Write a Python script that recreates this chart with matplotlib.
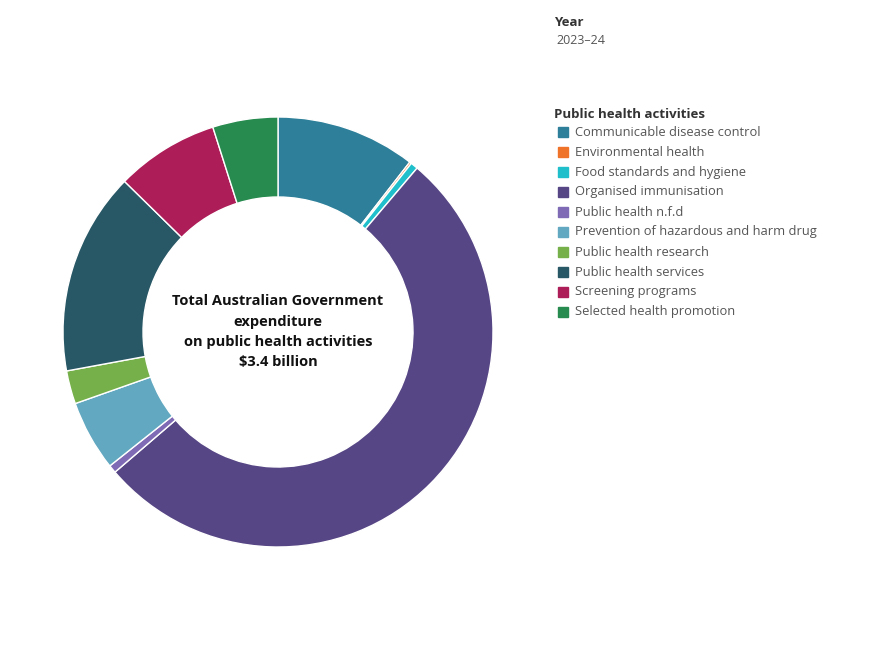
import matplotlib
matplotlib.use("Agg")
import matplotlib.pyplot as plt
from matplotlib.patches import Rectangle

categories = [
    "Communicable disease control",
    "Environmental health",
    "Food standards and hygiene",
    "Organised immunisation",
    "Public health n.f.d",
    "Prevention of hazardous and harm drug",
    "Public health research",
    "Public health services",
    "Screening programs",
    "Selected health promotion",
]
shares = [10.5, 0.15, 0.55, 52.5, 0.6, 5.3, 2.5, 15.25, 7.75, 4.9]
colors = ["#2e7f99", "#f0732a", "#1fbfcb", "#574685", "#7f6bb5",
          "#61a8c0", "#76b04a", "#285765", "#ad1d57", "#278a4e"]
year = "2023–24"
center_lines = ["Total Australian Government", "expenditure",
                "on public health activities", "$3.4 billion"]

plt.rcParams['font.family'] = ['Open Sans', 'DejaVu Sans']
W, H = 890, 650
fig = plt.figure(figsize=(W/100, H/100), dpi=100)

cx, cy, r = 278, 332, 215
ax = fig.add_axes([(cx-r)/W, (H-cy-r)/H, 2*r/W, 2*r/H])
ax.pie(shares, colors=colors, startangle=90, counterclock=False, radius=1,
       wedgeprops=dict(width=80/215, edgecolor="white", linewidth=1))
ax.set_xlim(-1, 1); ax.set_ylim(-1, 1)
ax.set_aspect("equal")
ax.axis("off")

for line, y in zip(center_lines, [301, 322, 342, 362]):
    fig.text(cx/W, 1-y/H, line, ha="center", va="center",
             fontsize=10.5, fontweight="bold", color="#111111")

fig.text(554/W, 1-22/H, "Year", ha="left", va="center", fontsize=9.5,
         fontweight="bold", color="#333333")
fig.text(556/W, 1-40/H, year, ha="left", va="center", fontsize=9, color="#555555")
fig.text(554/W, 1-114/H, "Public health activities", ha="left", va="center",
         fontsize=9.5, fontweight="bold", color="#333333")
for i, (cat, col) in enumerate(zip(categories, colors)):
    y = 132 + 20*i
    fig.add_artist(Rectangle((558/W, 1-(y+5)/H), 10/W, 10/H, color=col,
                             transform=fig.transFigure))
    fig.text(575/W, 1-y/H, cat, ha="left", va="center", fontsize=9.3, color="#555555")

fig.savefig("out.png", dpi=100)
